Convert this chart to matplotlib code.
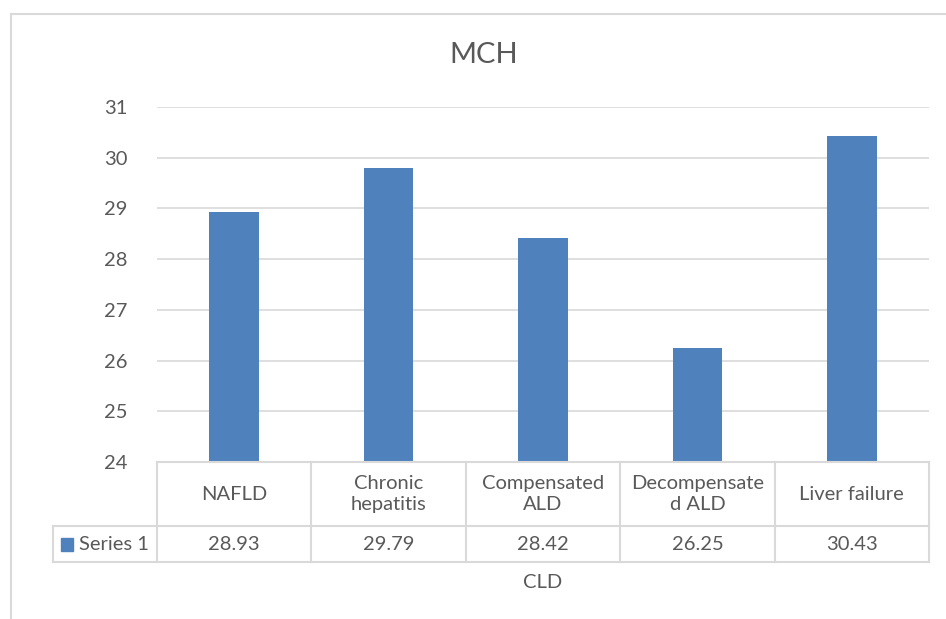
import matplotlib.pyplot as plt
from matplotlib.lines import Line2D
from matplotlib.patches import Rectangle

plt.rcParams['font.family'] = ['Lato', 'DejaVu Sans']

categories = ['NAFLD', 'Chronic\nhepatitis', 'Compensated\nALD', 'Decompensate\nd ALD', 'Liver failure']
values = [28.93, 29.79, 28.42, 26.25, 30.43]
value_labels = ['28.93', '29.79', '28.42', '26.25', '30.43']
series_name = 'Series 1'
yticks = [24, 25, 26, 27, 28, 29, 30, 31]

W, H = 946, 619
bar_color = '#4f81bd'
grid_color = '#d9d9d9'
text_color = '#595959'
fs = 14.5

fig = plt.figure(figsize=(W / 100, H / 100), dpi=100)

def fx(px):
    return px / W

def fy(py):
    return 1 - py / H

# outer chart border (left and top visible)
fig.add_artist(Line2D([fx(11), fx(11)], [fy(14), 0], color=grid_color, lw=1.5))
fig.add_artist(Line2D([fx(11), 1], [fy(14), fy(14)], color=grid_color, lw=1.5))

# main plot area
x0, x1 = 157, 929
y_top, y_bot = 107, 462
ax = fig.add_axes([fx(x0), fy(y_bot), fx(x1 - x0), (y_bot - y_top) / H])
xs = list(range(len(categories)))
ax.bar(xs, [v - 24 for v in values], bottom=24, width=0.32, color=bar_color, zorder=3)
ax.set_xlim(-0.5, len(categories) - 0.5)
ax.set_ylim(24, 31)
ax.set_yticks(yticks)
ax.set_yticklabels([str(t) for t in yticks], fontsize=fs, color=text_color)
ax.tick_params(axis='y', length=0, pad=21)
ax.set_xticks([])
for s in ax.spines.values():
    s.set_visible(False)
ax.grid(axis='y', color=grid_color, lw=1.2, zorder=0)

# data table below the axis
cat_px = (x1 - x0) / len(categories)
leg_w = (x0 - 53) / cat_px
tab = fig.add_axes([fx(53), fy(562), fx(x1 - 53), 100 / H])
tab.set_xlim(-0.5 - leg_w, len(categories) - 0.5)
tab.set_ylim(100, 0)
tab.axis('off')
lk = dict(color=grid_color, lw=1.5, clip_on=False)
tab.plot([-0.5, len(categories) - 0.5], [0, 0], **lk)
tab.plot([-0.5 - leg_w, len(categories) - 0.5], [64, 64], **lk)
tab.plot([-0.5 - leg_w, len(categories) - 0.5], [100, 100], **lk)
tab.plot([-0.5 - leg_w, -0.5 - leg_w], [64, 100], **lk)
for i in range(len(categories) + 1):
    tab.plot([i - 0.5, i - 0.5], [0, 100], **lk)
for i, (c, v) in enumerate(zip(categories, value_labels)):
    tab.text(i, 32, c, ha='center', va='center', fontsize=fs, color=text_color, linespacing=1.3)
    tab.text(i, 82, v, ha='center', va='center', fontsize=fs, color=text_color)
tab.add_patch(Rectangle((-0.5 - leg_w + 8 / cat_px, 76), 12 / cat_px, 13, color=bar_color, clip_on=False))
tab.text(-0.5 - leg_w + 26 / cat_px, 82, series_name, ha='left', va='center', fontsize=fs, color=text_color)

fig.text(fx(484), fy(55), 'MCH', ha='center', va='center', fontsize=21, color=text_color)
fig.text(fx(543), fy(583), 'CLD', ha='center', va='center', fontsize=fs, color=text_color)

fig.savefig('out.png', dpi=100)
